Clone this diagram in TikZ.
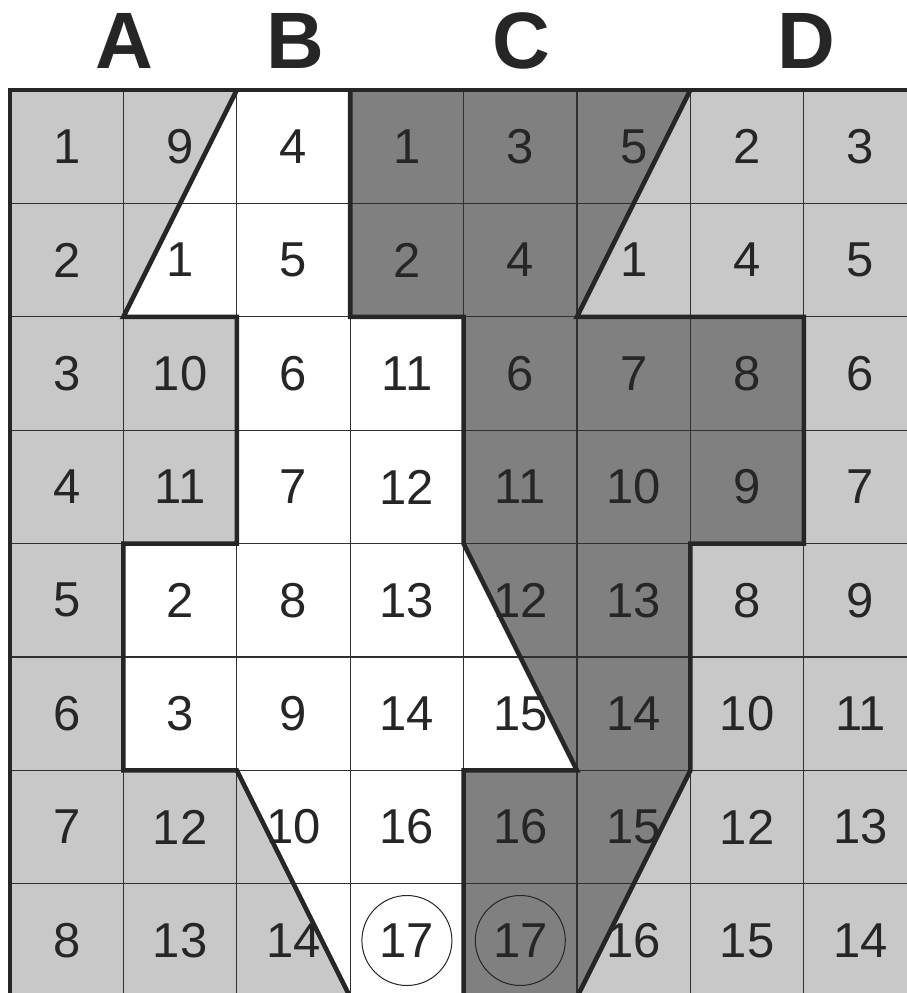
\documentclass[tikz,border=0pt]{standalone}
\usepackage{fontspec}
\setmainfont{Liberation Sans}
\definecolor{lg}{HTML}{C8C8C8}
\definecolor{dg}{HTML}{808080}
\definecolor{ink}{HTML}{262626}
\definecolor{gridc}{HTML}{303030}
\tikzset{
  colhead/.style={font=\fontsize{80}{80}\selectfont\bfseries, text=ink, inner sep=0pt},
  num/.style={font=\fontsize{49}{49}\selectfont, text=ink, inner sep=0pt},
  ring/.style={circle, draw=ink, line width=1pt, minimum size=90pt, inner sep=0pt},
  thinline/.style={draw=gridc, line width=1.2pt},
  boundary/.style={draw=ink, line width=4.6pt, line join=miter, line cap=butt},
}
\begin{document}
\begin{tikzpicture}[x=1pt,y=-1pt]
\useasboundingbox (0,0) rectangle (907,993);
\clip (0,0) rectangle (907,993);
\fill[white] (0,0) rectangle (907,993);
\node[colhead] (hA) at (124,40.5) {A};
\node[colhead] (hB) at (295.5,40.5) {B};
\node[colhead] (hC) at (521,40.5) {C};
\node[colhead] (hD) at (806,40.5) {D};
\begin{scope}[shift={(10,90)}, x=113.4pt, y=-113.4pt]
  % background regions
  \fill[lg] (0,0) rectangle (8.2,8.2);
  \fill[white] (2,0) -- (3,0) -- (3,2) -- (4,2) -- (4,4) -- (5,6) -- (4,6) -- (4,8.2)
     -- (3.1,8.2) -- (2,6) -- (1,6) -- (1,4) -- (2,4) -- (2,2) -- (1,2) -- cycle;
  \fill[dg] (3,0) -- (6,0) -- (5,2) -- (7,2) -- (7,4) -- (6,4) -- (6,6) -- (4.9,8.2)
     -- (4,8.2) -- (4,6) -- (5,6) -- (4,4) -- (4,2) -- (3,2) -- cycle;
  % grid
  \foreach \k in {1,...,8} {
    \draw[thinline] (\k,0) -- (\k,8.2);
    \draw[thinline] (0,\k) -- (8.2,\k);
  }
  % numbers
  \foreach \row [count=\r from 0] in {
      {1,9,4,1,3,5,2,3},
      {2,1,5,2,4,1,4,5},
      {3,10,6,11,6,7,8,6},
      {4,11,7,12,11,10,9,7},
      {5,2,8,13,12,13,8,9},
      {6,3,9,14,15,14,10,11},
      {7,12,10,16,16,15,12,13},
      {8,13,14,17,17,16,15,14}}{
    \foreach \v [count=\c from 0] in \row {
      \node[num] (n\r-\c) at (\c+0.5,\r+0.5) {\v};
    }
  }
  % circles round the two 17s
  \node[ring] (ringB) at (3.5,7.5) {};
  \node[ring] (ringC) at (4.5,7.5) {};
  % thick boundaries
  \draw[boundary] (0,8.3) -- (0,0) -- (8.3,0);
  \draw[boundary] (2,0) -- (1,2) -- (2,2) -- (2,4) -- (1,4) -- (1,6) -- (2,6) -- (3.15,8.3);
  \draw[boundary] (3,0) -- (3,2) -- (4,2) -- (4,4) -- (5,6) -- (4,6) -- (4,8.3);
  \draw[boundary] (6,0) -- (5,2) -- (7,2) -- (7,4) -- (6,4) -- (6,6) -- (4.85,8.3);
\end{scope}
\end{tikzpicture}
\end{document}
